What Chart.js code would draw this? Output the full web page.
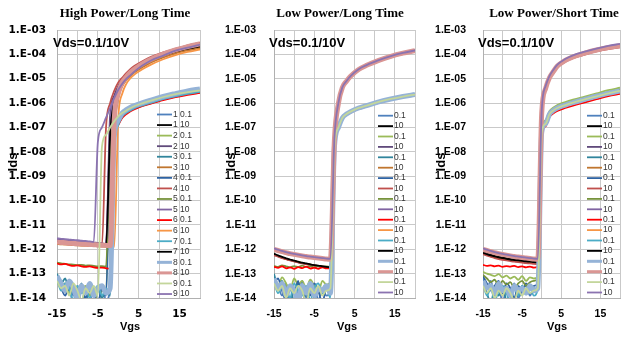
<!DOCTYPE html>
<html>
<head>
<meta charset="utf-8">
<script src="https://cdn.jsdelivr.net/npm/chart.js@4.4.1/dist/chart.umd.min.js"></script>
<style>
  html, body { margin: 0; padding: 0; background: #fff; }
  #wrap { position: relative; width: 630px; height: 337px; overflow: hidden; }
  .panel { position: absolute; top: 0; height: 337px; }
</style>
</head>
<body>
<div id="wrap">
  <div class="panel" style="left:0"><canvas id="c1" width="210" height="337"></canvas></div>
  <div class="panel" style="left:210px"><canvas id="c2" width="215" height="337"></canvas></div>
  <div class="panel" style="left:425px"><canvas id="c3" width="205" height="337"></canvas></div>
</div>
<script>
// ---- data (Ids given as log10 values, one entry per Vgs point) ----
const vgs = [-15, -14, -13, -12, -11, -10, -9, -8, -7, -6, -5, -4, -3, -2, -1, 0, 1, 2, 3, 4, 6, 8, 11, 14, 17, 20];
const xTickLabels = [-15, -5, 5, 15];
const yDecades = [1e-14, 1e-13, 1e-12, 1e-11, 1e-10, 1e-9, 1e-8, 1e-7, 1e-6, 1e-5, 1e-4, 1e-3];

const legendHigh = ["1 0.1", "1 10", "2 0.1", "2 10", "3 0.1", "3 10", "4 0.1", "4 10", "5 0.1", "5 10",
  "6 0.1", "6 10", "7 0.1", "7 10", "8 0.1", "8 10", "9 0.1", "9 10"];
const legendLow = ["0.1", "10", "0.1", "10", "0.1", "10", "0.1", "10", "0.1", "10",
  "0.1", "10", "0.1", "10", "0.1", "10", "0.1", "10"];

// High Power / Long Time
const hpltLogIds = [
  [-13.1, -13.3, -13.6, -13.4, -13.9, -13.5, -14.2, -13.6, -13.8, -14.3, -13.7, -13.5, -14.1, -13.6, -7.6, -6.8, -6.5, -6.35, -6.25, -6.17, -6.05, -5.95, -5.8, -5.68, -5.58, -5.5],
  [-11.7, -11.72, -11.73, -11.75, -11.76, -11.77, -11.78, -11.8, -11.8, -11.81, -11.82, -11.83, -11.84, -11.85, -7.0, -5.7, -5.25, -5.0, -4.82, -4.68, -4.47, -4.28, -4.07, -3.92, -3.8, -3.7],
  [-13.2, -13.5, -13.4, -13.8, -13.6, -14.1, -13.7, -13.5, -13.9, -13.6, -14.2, -13.7, -13.8, -7.7, -7.0, -6.7, -6.5, -6.38, -6.28, -6.2, -6.08, -5.98, -5.83, -5.72, -5.62, -5.55],
  [-11.6, -11.62, -11.63, -11.65, -11.66, -11.68, -11.7, -11.7, -11.72, -11.73, -11.74, -11.76, -11.78, -6.5, -5.7, -5.3, -5.05, -4.85, -4.7, -4.56, -4.35, -4.17, -3.98, -3.83, -3.7, -3.6],
  [-13.0, -13.4, -13.2, -13.7, -13.5, -13.9, -13.4, -14.2, -13.6, -13.8, -13.5, -14.0, -13.7, -13.9, -7.5, -6.85, -6.55, -6.4, -6.3, -6.22, -6.1, -6.0, -5.85, -5.73, -5.63, -5.56],
  [-11.78, -11.8, -11.8, -11.82, -11.83, -11.84, -11.85, -11.85, -11.86, -11.87, -11.88, -11.88, -11.89, -11.9, -7.2, -5.8, -5.3, -5.05, -4.88, -4.74, -4.52, -4.33, -4.12, -3.96, -3.84, -3.74],
  [-13.3, -13.6, -13.9, -13.5, -14.3, -13.7, -13.6, -14.0, -13.5, -13.8, -14.2, -13.6, -13.9, -8.0, -7.2, -6.8, -6.55, -6.4, -6.3, -6.2, -6.08, -5.97, -5.82, -5.7, -5.6, -5.52],
  [-11.75, -11.76, -11.77, -11.78, -11.8, -11.8, -11.81, -11.82, -11.83, -11.84, -11.85, -11.86, -7.0, -6.0, -5.5, -5.15, -4.95, -4.76, -4.6, -4.47, -4.27, -4.1, -3.92, -3.77, -3.63, -3.52],
  [-12.55, -12.58, -12.6, -12.62, -12.63, -12.65, -12.64, -12.67, -12.66, -12.68, -12.7, -12.69, -12.72, -7.9, -7.1, -6.75, -6.5, -6.37, -6.27, -6.19, -6.07, -5.96, -5.81, -5.69, -5.59, -5.52],
  [-11.62, -11.64, -11.65, -11.67, -11.68, -11.7, -11.71, -11.72, -11.73, -11.75, -11.76, -11.77, -11.79, -6.9, -5.9, -5.4, -5.1, -4.9, -4.73, -4.6, -4.4, -4.22, -4.02, -3.87, -3.74, -3.64],
  [-12.58, -12.62, -12.6, -12.65, -12.68, -12.66, -12.7, -12.72, -12.7, -12.74, -12.76, -12.75, -12.78, -12.8, -7.6, -6.9, -6.6, -6.45, -6.33, -6.25, -6.12, -6.02, -5.88, -5.76, -5.66, -5.58],
  [-11.76, -11.78, -11.8, -11.8, -11.82, -11.83, -11.84, -11.85, -11.86, -11.86, -11.87, -11.88, -11.89, -11.9, -11.9, -6.6, -5.6, -5.2, -4.97, -4.82, -4.6, -4.42, -4.2, -4.03, -3.9, -3.8],
  [-13.2, -13.7, -13.4, -13.6, -14.1, -13.5, -13.8, -13.6, -14.0, -13.7, -13.5, -13.9, -13.6, -13.8, -7.8, -6.9, -6.55, -6.4, -6.3, -6.21, -6.09, -5.99, -5.84, -5.72, -5.62, -5.54],
  [-11.72, -11.73, -11.75, -11.76, -11.77, -11.78, -11.79, -11.8, -11.81, -11.82, -11.83, -11.84, -11.85, -7.3, -6.0, -5.45, -5.12, -4.92, -4.77, -4.63, -4.42, -4.24, -4.04, -3.88, -3.75, -3.66],
  [-13.1, -13.4, -13.7, -13.3, -13.6, -14.0, -13.5, -13.8, -13.4, -13.9, -13.6, -13.5, -13.8, -13.6, -7.4, -6.7, -6.4, -6.27, -6.17, -6.1, -5.98, -5.88, -5.73, -5.61, -5.5, -5.42],
  [-11.7, -11.72, -11.73, -11.75, -11.76, -11.77, -11.78, -11.79, -11.8, -11.81, -11.82, -11.83, -11.84, -11.85, -6.7, -5.6, -5.15, -4.92, -4.74, -4.6, -4.38, -4.2, -3.99, -3.82, -3.68, -3.57],
  [-13.3, -13.6, -13.5, -13.9, -13.4, -13.7, -14.1, -13.6, -13.8, -13.5, -13.9, -7.8, -7.3, -7.0, -6.75, -6.55, -6.4, -6.3, -6.2, -6.12, -6.0, -5.9, -5.75, -5.63, -5.55, -5.48],
  [-11.55, -11.57, -11.58, -11.6, -11.62, -11.63, -11.65, -11.66, -11.68, -11.7, -7.6, -7.0, -6.6, -6.2, -5.8, -5.45, -5.2, -5.0, -4.85, -4.7, -4.45, -4.25, -4.05, -3.85, -3.72, -3.6]
];

// Low Power / Long Time
const lpltLogIds = [
  [-13.1, -13.5, -13.9, -13.4, -14.2, -13.6, -13.8, -13.3, -14.0, -13.7, -13.5, -14.1, -13.6, -13.9, -13.7, -7.8, -7.0, -6.62, -6.47, -6.37, -6.22, -6.12, -5.97, -5.85, -5.75, -5.67],
  [-12.22, -12.28, -12.34, -12.4, -12.45, -12.49, -12.53, -12.57, -12.6, -12.63, -12.66, -12.68, -12.7, -12.72, -12.74, -7.5, -6.0, -5.36, -5.11, -4.91, -4.63, -4.46, -4.26, -4.09, -3.96, -3.86],
  [-13.2, -13.5, -13.15, -13.4, -13.7, -13.2, -13.45, -13.3, -13.6, -13.25, -13.5, -13.8, -13.3, -13.45, -13.35, -7.8, -6.98, -6.6, -6.45, -6.35, -6.2, -6.1, -5.95, -5.83, -5.73, -5.65],
  [-11.98, -12.04, -12.09, -12.13, -12.17, -12.2, -12.23, -12.26, -12.29, -12.31, -12.33, -12.35, -12.37, -12.39, -12.4, -7.45, -5.97, -5.33, -5.08, -4.88, -4.6, -4.43, -4.23, -4.06, -3.93, -3.83],
  [-13.0, -13.6, -13.3, -13.8, -13.5, -14.2, -13.4, -13.7, -13.9, -13.5, -14.0, -13.6, -13.8, -13.5, -13.9, -7.85, -7.02, -6.63, -6.48, -6.38, -6.23, -6.12, -5.97, -5.85, -5.75, -5.67],
  [-12.2, -12.27, -12.33, -12.39, -12.44, -12.48, -12.52, -12.56, -12.6, -12.63, -12.66, -12.69, -12.71, -12.73, -12.75, -7.55, -6.02, -5.37, -5.12, -4.92, -4.64, -4.47, -4.27, -4.1, -3.97, -3.87],
  [-13.4, -13.2, -13.7, -14.1, -13.5, -13.8, -13.3, -14.3, -13.6, -13.9, -13.4, -13.7, -14.2, -13.6, -13.8, -7.75, -6.98, -6.59, -6.44, -6.34, -6.19, -6.09, -5.94, -5.82, -5.72, -5.64],
  [-12.25, -12.3, -12.36, -12.41, -12.46, -12.5, -12.54, -12.58, -12.61, -12.64, -12.67, -12.7, -12.72, -12.74, -12.76, -7.6, -6.05, -5.4, -5.14, -4.94, -4.66, -4.49, -4.29, -4.12, -3.99, -3.89],
  [-12.68, -12.72, -12.66, -12.7, -12.74, -12.69, -12.73, -12.67, -12.72, -12.7, -12.75, -12.68, -12.73, -12.7, -12.72, -7.8, -7.0, -6.61, -6.46, -6.36, -6.21, -6.11, -5.96, -5.84, -5.74, -5.66],
  [-12.0, -12.05, -12.1, -12.14, -12.18, -12.21, -12.24, -12.27, -12.3, -12.32, -12.34, -12.36, -12.38, -12.4, -12.41, -7.5, -6.0, -5.35, -5.1, -4.9, -4.62, -4.45, -4.25, -4.08, -3.95, -3.85],
  [-12.72, -12.76, -12.7, -12.78, -12.74, -12.8, -12.73, -12.77, -12.71, -12.79, -12.75, -12.8, -12.74, -12.78, -12.76, -7.85, -7.03, -6.64, -6.49, -6.39, -6.24, -6.14, -5.99, -5.87, -5.77, -5.69],
  [-12.02, -12.07, -12.11, -12.15, -12.19, -12.22, -12.25, -12.28, -12.3, -12.33, -12.35, -12.37, -12.38, -12.4, -12.42, -7.5, -6.0, -5.36, -5.1, -4.9, -4.62, -4.45, -4.25, -4.08, -3.95, -3.85],
  [-13.3, -13.8, -13.5, -13.6, -14.0, -13.4, -13.7, -13.9, -13.5, -14.1, -13.6, -13.4, -13.8, -13.6, -14.0, -7.8, -7.0, -6.6, -6.45, -6.35, -6.2, -6.1, -5.95, -5.83, -5.73, -5.65],
  [-12.18, -12.25, -12.31, -12.37, -12.42, -12.47, -12.51, -12.55, -12.58, -12.62, -12.65, -12.67, -12.7, -12.72, -12.73, -7.5, -6.0, -5.35, -5.1, -4.9, -4.62, -4.45, -4.25, -4.08, -3.95, -3.85],
  [-13.2, -13.6, -13.4, -13.9, -13.5, -13.7, -14.1, -13.5, -13.8, -13.4, -13.9, -13.6, -13.7, -13.5, -13.8, -7.8, -7.0, -6.6, -6.45, -6.35, -6.2, -6.1, -5.95, -5.83, -5.73, -5.65],
  [-12.0, -12.05, -12.1, -12.14, -12.18, -12.21, -12.24, -12.27, -12.3, -12.32, -12.34, -12.36, -12.38, -12.4, -12.41, -7.5, -6.0, -5.35, -5.1, -4.9, -4.62, -4.45, -4.25, -4.08, -3.95, -3.85],
  [-13.4, -13.7, -13.5, -14.0, -13.6, -13.8, -13.5, -13.7, -14.2, -13.6, -13.8, -13.5, -13.9, -13.7, -13.6, -7.8, -7.0, -6.6, -6.45, -6.35, -6.2, -6.1, -5.95, -5.83, -5.73, -5.65],
  [-11.96, -12.02, -12.07, -12.12, -12.16, -12.19, -12.22, -12.25, -12.28, -12.3, -12.32, -12.34, -12.36, -12.38, -12.39, -7.45, -5.98, -5.34, -5.09, -4.89, -4.61, -4.44, -4.24, -4.07, -3.94, -3.84]
];

// Low Power / Short Time
const lpstLogIds = [
  [-13.2, -13.6, -13.3, -13.9, -13.5, -14.2, -13.6, -13.8, -13.4, -14.0, -13.7, -13.5, -13.9, -13.6, -13.7, -7.2, -6.85, -6.46, -6.31, -6.21, -6.09, -5.99, -5.86, -5.73, -5.61, -5.51],
  [-12.12, -12.18, -12.23, -12.27, -12.31, -12.34, -12.37, -12.4, -12.42, -12.44, -12.46, -12.48, -12.49, -12.51, -12.52, -6.42, -5.42, -4.97, -4.72, -4.5, -4.27, -4.12, -3.97, -3.84, -3.74, -3.67],
  [-12.93, -13.0, -13.05, -13.1, -13.02, -13.15, -13.08, -13.2, -13.12, -13.25, -13.1, -13.3, -13.15, -13.2, -13.1, -7.1, -6.7, -6.32, -6.18, -6.08, -5.96, -5.86, -5.73, -5.6, -5.47, -5.37],
  [-11.98, -12.04, -12.09, -12.13, -12.17, -12.2, -12.23, -12.26, -12.29, -12.31, -12.33, -12.35, -12.37, -12.39, -12.4, -6.38, -5.38, -4.93, -4.68, -4.46, -4.23, -4.08, -3.93, -3.8, -3.7, -3.63],
  [-13.3, -13.8, -14.2, -13.6, -13.9, -13.5, -14.1, -13.7, -13.6, -13.9, -13.5, -13.8, -13.6, -13.7, -13.5, -7.22, -6.87, -6.47, -6.32, -6.22, -6.1, -6.0, -5.87, -5.74, -5.62, -5.52],
  [-12.17, -12.22, -12.27, -12.31, -12.35, -12.38, -12.41, -12.44, -12.46, -12.48, -12.5, -12.52, -12.53, -12.55, -12.56, -6.45, -5.45, -5.0, -4.74, -4.52, -4.29, -4.14, -3.99, -3.86, -3.76, -3.69],
  [-13.1, -13.4, -13.7, -13.5, -13.3, -13.8, -13.4, -13.6, -14.0, -13.5, -13.7, -13.4, -13.6, -13.5, -13.4, -7.2, -6.85, -6.45, -6.3, -6.2, -6.08, -5.98, -5.85, -5.72, -5.6, -5.5],
  [-12.2, -12.26, -12.31, -12.36, -12.4, -12.43, -12.46, -12.49, -12.51, -12.53, -12.55, -12.57, -12.58, -12.6, -12.61, -6.48, -5.48, -5.02, -4.76, -4.54, -4.31, -4.16, -4.01, -3.88, -3.78, -3.71],
  [-13.05, -13.2, -13.35, -13.25, -13.5, -13.3, -13.45, -13.35, -13.6, -13.4, -13.3, -13.5, -13.35, -13.3, -13.2, -7.15, -6.78, -6.4, -6.25, -6.15, -6.03, -5.93, -5.8, -5.67, -5.55, -5.45],
  [-12.0, -12.05, -12.1, -12.14, -12.18, -12.21, -12.24, -12.27, -12.3, -12.32, -12.34, -12.36, -12.38, -12.4, -12.41, -6.4, -5.4, -4.95, -4.7, -4.48, -4.25, -4.1, -3.95, -3.82, -3.72, -3.65],
  [-12.64, -12.68, -12.66, -12.7, -12.67, -12.72, -12.69, -12.71, -12.68, -12.73, -12.7, -12.74, -12.71, -12.75, -12.72, -7.3, -6.95, -6.57, -6.42, -6.32, -6.2, -6.1, -5.97, -5.84, -5.71, -5.62],
  [-12.02, -12.07, -12.11, -12.15, -12.19, -12.22, -12.25, -12.28, -12.3, -12.33, -12.35, -12.37, -12.38, -12.4, -12.42, -6.42, -5.43, -4.97, -4.72, -4.5, -4.27, -4.12, -3.97, -3.84, -3.74, -3.66],
  [-13.4, -13.9, -13.6, -14.1, -13.7, -13.5, -13.8, -14.2, -13.6, -13.9, -13.5, -13.8, -13.6, -13.9, -13.6, -7.2, -6.85, -6.45, -6.3, -6.2, -6.08, -5.98, -5.85, -5.72, -5.6, -5.5],
  [-12.15, -12.2, -12.25, -12.29, -12.33, -12.36, -12.39, -12.42, -12.44, -12.46, -12.48, -12.5, -12.51, -12.53, -12.54, -6.44, -5.44, -4.98, -4.73, -4.51, -4.28, -4.13, -3.98, -3.85, -3.75, -3.68],
  [-13.3, -13.6, -13.5, -13.8, -13.4, -13.7, -13.6, -13.9, -13.5, -13.7, -13.6, -13.8, -13.5, -13.7, -13.6, -7.2, -6.85, -6.45, -6.3, -6.2, -6.08, -5.98, -5.85, -5.72, -5.6, -5.5],
  [-12.0, -12.05, -12.1, -12.14, -12.18, -12.21, -12.24, -12.27, -12.3, -12.32, -12.34, -12.36, -12.38, -12.4, -12.41, -6.4, -5.4, -4.95, -4.7, -4.48, -4.25, -4.1, -3.95, -3.82, -3.72, -3.65],
  [-13.5, -13.8, -13.6, -14.0, -13.7, -13.9, -13.6, -13.8, -14.1, -13.7, -13.9, -13.6, -13.8, -13.7, -13.6, -7.2, -6.85, -6.45, -6.3, -6.2, -6.08, -5.98, -5.85, -5.72, -5.6, -5.5],
  [-11.96, -12.02, -12.07, -12.12, -12.16, -12.19, -12.22, -12.25, -12.28, -12.3, -12.32, -12.34, -12.36, -12.38, -12.39, -6.3, -5.3, -4.88, -4.63, -4.42, -4.19, -4.04, -3.89, -3.76, -3.65, -3.57]
];

// ---- styles ----
const seriesColors = [
  "#4f81bd", "#000000", "#9bbb59", "#604a7b", "#31859c", "#c0762f",
  "#2f63a3", "#c0504d", "#77933c", "#8064a2", "#ff0000", "#f79646",
  "#4bacc6", "#000000", "#95b3d7", "#da9694", "#c3d69b", "#8b73b0"
];
const thickSeries = [14, 15];
const gridColor = "#c9c9c9";

const panelText = {
  id: "panelText",
  afterDraw(chart, args, o) {
    const { ctx } = chart;
    ctx.save();

    // legend inside the plot
    chart.data.datasets.forEach((ds, i) => {
      const y = o.legY + i * o.legStep;
      ctx.strokeStyle = ds.borderColor;
      ctx.lineWidth = Math.min(ds.borderWidth, 3);
      ctx.beginPath();
      ctx.moveTo(o.legX, y);
      ctx.lineTo(o.legX + 15, y);
      ctx.stroke();
      ctx.fillStyle = "#333";
      ctx.font = "8.5px 'Liberation Sans', Arial, sans-serif";
      ctx.textAlign = "left";
      ctx.textBaseline = "middle";
      ctx.fillText(ds.label, o.legX + 16, y);
    });

    ctx.fillStyle = "#000";
    ctx.font = "bold 13px 'Liberation Serif', 'Times New Roman', serif";
    ctx.textAlign = "center";
    ctx.textBaseline = "middle";
    ctx.fillText(o.title, o.titleX, 14);

    ctx.font = "bold 13px 'Liberation Sans', Arial, sans-serif";
    ctx.textAlign = "left";
    ctx.fillText("Vds=0.1/10V", o.vdsX, 43);

    ctx.font = "bold 11px 'Liberation Sans', Arial, sans-serif";
    ctx.textAlign = "center";
    ctx.fillText("Vgs", o.vgsX, 327);

    ctx.translate(o.idsX, 162);
    ctx.rotate(-Math.PI / 2);
    ctx.font = "bold 13px 'Liberation Sans', Arial, sans-serif";
    ctx.fillText("Ids", 0, 0);
    ctx.restore();
  }
};

const panels = [
  { canvas: "c1", title: "High Power/Long Time", logIds: hpltLogIds, labels: legendHigh,
    yW: 57, padR: 7, yPad: 11, tickFont: { family: "DejaVu Sans", size: 10.5, weight: "bold" },
    titleX: 125, vdsX: 53, idsX: 13, vgsX: 130, legX: 157, legY: 114.5, legStep: 10.56 },
  { canvas: "c2", title: "Low Power/Long Time", logIds: lpltLogIds, labels: legendLow,
    yW: 64, padR: 3, yPad: 18, tickFont: { family: "Liberation Sans", size: 10.5, weight: "bold" },
    titleX: 130, vdsX: 59, idsX: 21, vgsX: 137, legX: 168, legY: 115.7, legStep: 10.4 },
  { canvas: "c3", title: "Low Power/Short Time", logIds: lpstLogIds, labels: legendLow,
    yW: 58, padR: 1, yPad: 17, tickFont: { family: "Liberation Sans", size: 10.5, weight: "bold" },
    titleX: 129, vdsX: 53, idsX: 16, vgsX: 132, legX: 162, legY: 115.7, legStep: 10.4 }
];

function decadeLabel(v) {
  const e = -Math.round(Math.log10(v));
  return "1.E-" + String(e).padStart(2, "0");
}

function buildDatasets(logIds, labels) {
  return logIds.map((logs, i) => ({
    label: labels[i],
    data: vgs.map((v, k) => ({ x: v, y: Math.pow(10, logs[k]) })),
    borderColor: seriesColors[i],
    backgroundColor: seriesColors[i],
    borderWidth: thickSeries.includes(i) ? 5 : 1.8,
    pointRadius: 0,
    cubicInterpolationMode: "monotone",
    clip: 0,
    order: -i
  }));
}

panels.forEach(p => {
  new Chart(document.getElementById(p.canvas).getContext("2d"), {
    type: "line",
    data: { datasets: buildDatasets(p.logIds, p.labels) },
    options: {
      responsive: false,
      animation: false,
      devicePixelRatio: 1,
      layout: { padding: { left: 0, right: p.padR, top: 30, bottom: 0 } },
      plugins: {
        legend: { display: false },
        tooltip: { enabled: false },
        panelText: p
      },
      scales: {
        x: {
          type: "linear",
          min: -15,
          max: 20,
          ticks: {
            stepSize: 5,
            autoSkip: false,
            maxRotation: 0,
            padding: 10,
            color: "#000",
            font: p.tickFont,
            callback: v => (xTickLabels.includes(v) ? String(v) : "")
          },
          grid: { color: gridColor, drawTicks: false },
          border: { color: "#b0b0b0" },
          afterFit: a => { a.height = 39; }
        },
        y: {
          type: "logarithmic",
          min: 1e-14,
          max: 1e-3,
          afterBuildTicks: a => { a.ticks = yDecades.map(v => ({ value: v })); },
          ticks: {
            autoSkip: false,
            padding: p.yPad,
            color: "#000",
            font: p.tickFont,
            callback: v => decadeLabel(v)
          },
          grid: { color: gridColor, drawTicks: false },
          border: { color: "#b0b0b0" },
          afterFit: a => { a.width = p.yW; }
        }
      }
    },
    plugins: [panelText]
  });
});
</script>
</body>
</html>
